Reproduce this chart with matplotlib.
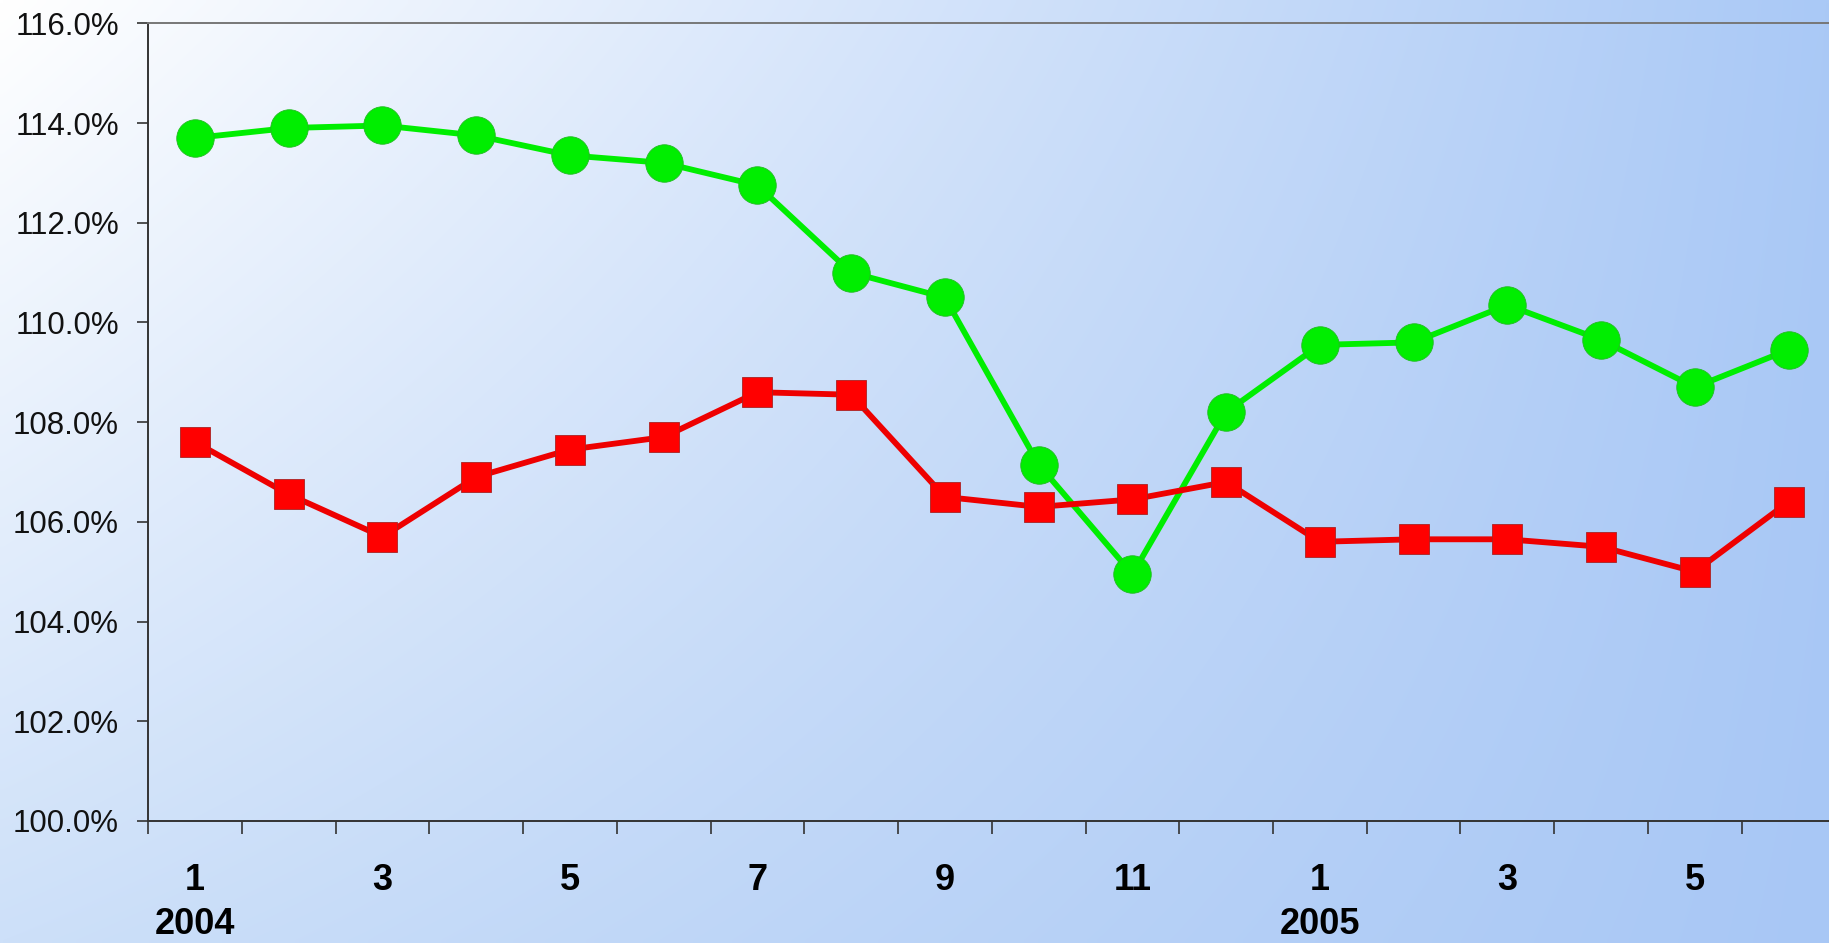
import numpy as np
import matplotlib
matplotlib.use('Agg')
import matplotlib.pyplot as plt
from matplotlib.ticker import FixedLocator, FuncFormatter

# monthly values, Jan 2004 .. Jun 2005
months = ['1', '', '3', '', '5', '', '7', '', '9', '', '11', '',
          '1', '', '3', '', '5', '']
years = ['2004', '2005']
year_pos = [0, 12]
green = [113.7, 113.9, 113.95, 113.75, 113.35, 113.2, 112.75, 111.0, 110.5,
         107.15, 104.95, 108.2, 109.55, 109.6, 110.35, 109.65, 108.7, 109.45]
red = [107.6, 106.55, 105.7, 106.9, 107.45, 107.7, 108.6, 108.55, 106.5,
       106.3, 106.45, 106.8, 105.6, 105.65, 105.65, 105.5, 105.0, 106.4]

plt.rcParams['font.family'] = ['Liberation Sans', 'DejaVu Sans']

fig = plt.figure(figsize=(18.29, 9.43), dpi=100)

# background gradient
bg = fig.add_axes([0, 0, 1, 1])
bg.set_axis_off()
tl = np.array([255, 255, 255]) / 255
bl = np.array([205, 224, 249]) / 255
tr = np.array([170, 201, 246]) / 255
br = np.array([168, 199, 245]) / 255
u = np.linspace(0, 1, 300)[None, :, None]
v = np.linspace(0, 1, 160)[:, None, None]
img = (1 - u) * (1 - v) * tl + u * (1 - v) * tr + (1 - u) * v * bl + u * v * br
bg.imshow(img, aspect='auto', extent=[0, 1, 0, 1], interpolation='bilinear')

ax = fig.add_axes([0.081, 0.1294, 0.9225, 0.8459])
ax.set_facecolor('none')
x = np.arange(len(green))

ax.plot(x, green, color='#00ee00', lw=4.2, marker='o', ms=27,
        mfc='#00ee00', mec='#22bb22', mew=0.6, zorder=3)
ax.plot(x, red, color='#ee0000', lw=4.2, marker='s', ms=22,
        mfc='#ff0000', mec='#aa2222', mew=0.6, zorder=4)

ax.set_xlim(-0.5, len(green) - 0.5)
ax.set_ylim(100, 116)

ax.set_yticks(np.arange(100, 116.1, 2))
ax.yaxis.set_major_formatter(FuncFormatter(lambda v, p: f'{v:.1f}%'))
ax.tick_params(axis='y', length=8, width=1.2, color='#333333', pad=13,
               labelsize=22.5, labelcolor='#111111')

ax.xaxis.set_major_locator(FixedLocator(x))
ax.set_xticklabels(months, fontweight='bold', fontsize=26)
ax.xaxis.set_minor_locator(FixedLocator(np.arange(-0.5, len(green), 1.0)))
ax.tick_params(axis='x', which='major', length=0, pad=30)
ax.tick_params(axis='x', which='minor', length=9, width=1.2, color='#333333')

for yr, p in zip(years, year_pos):
    ax.annotate(yr, xy=(p, 0), xycoords=('data', 'axes fraction'),
                xytext=(0, -104), textcoords='offset pixels',
                ha='center', va='center', fontsize=26, fontweight='bold',
                annotation_clip=False)

for s in ['left', 'bottom']:
    ax.spines[s].set_color('#333333')
    ax.spines[s].set_linewidth(1.4)
ax.spines['top'].set_color('#777777')
ax.spines['top'].set_linewidth(1.4)
ax.spines['right'].set_visible(False)

fig.savefig('out.png', dpi=100)
